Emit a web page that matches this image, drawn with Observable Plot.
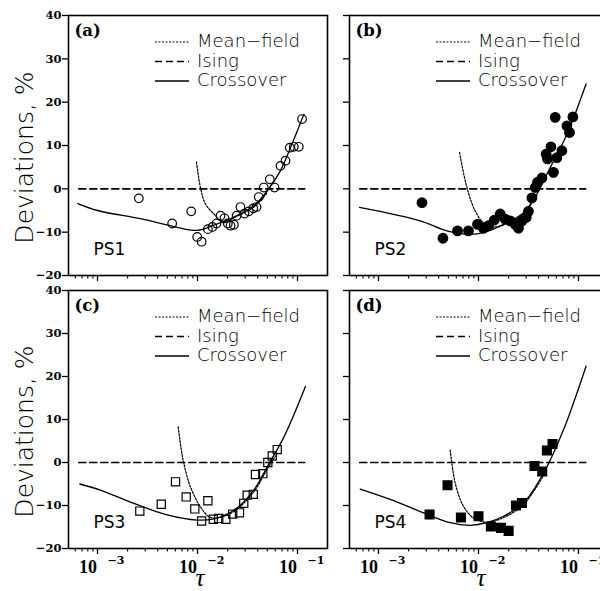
<!DOCTYPE html>
<html><head><meta charset="utf-8">
<script src="https://cdn.jsdelivr.net/npm/d3@7"></script>
<script src="https://cdn.jsdelivr.net/npm/@observablehq/plot@0.6"></script>
<style>
body{margin:0;background:#fff}
#chart{position:relative;width:600px;height:591px;overflow:hidden;background:#fff}
#chart svg{position:absolute}
</style></head><body><div id="chart"></div>
<script>
// ---- labels / ticks ----
const panelLetters = ["(a)","(b)","(c)","(d)"];
const sampleNames = ["PS1","PS2","PS3","PS4"];
const legendLabels = ["Mean\u2212field","Ising","Crossover"];
const yTitle = "Deviations, %";
const xTitle = "\u03c4";
const yTicks = [-20,-10,0,10,20,30,40];
const xMajorTicks = [1e-3,1e-2,1e-1];
const xTickExponents = ["\u22123","\u22122","\u22121"];

// ---- Ising reference line ----
const isingTau = [0.00065, 0.118];
const isingDev = [0, 0];

// ---- PS1 ----
const ps1Tau = [0.00259,0.00558,0.00865,0.00993,0.0110,0.0127,0.0141,0.0155,0.0170,0.0186,0.0201,0.0214,0.0231,0.0246,0.0269,0.0295,0.0326,0.0361,0.0389,0.0410,0.0460,0.0528,0.0589,0.0676,0.0759,0.0838,0.0918,0.103,0.111];
const ps1Dev = [-2.2,-8.0,-5.2,-11.1,-12.2,-9.3,-8.8,-8.0,-6.2,-6.8,-8.0,-8.5,-8.3,-6.2,-4.2,-5.7,-5.2,-4.5,-4.2,-1.9,0.3,2.2,0.3,5.3,6.5,9.5,9.7,9.7,16.1];
const crossATau = [0.000635,0.001,0.00269,0.00558,0.00993,0.0146,0.0231,0.0366,0.0498,0.0676,0.0851,0.116];
const crossADev = [-3.4,-5.0,-6.9,-8.6,-9.6,-8.4,-6.5,-3.9,-0.5,4.2,9.5,17.2];
const meanATau = [0.00977,0.0107,0.0120,0.0146,0.0170,0.0201,0.0231,0.0366,0.0498];
const meanADev = [6.2,0.3,-3.5,-5.8,-7.3,-7.4,-6.7,-4.2,-0.9];

// ---- PS2 ----
const ps2Tau = [0.00272,0.00441,0.00617,0.00794,0.00977,0.0112,0.0126,0.0144,0.0165,0.0185,0.0208,0.0233,0.0251,0.0272,0.0300,0.0316,0.0342,0.0369,0.0389,0.0431,0.0475,0.0490,0.0530,0.0562,0.0608,0.0682,0.0585,0.0766,0.0813,0.0879];
const ps2Dev = [-3.2,-11.4,-9.7,-9.7,-8.2,-9.1,-8.5,-7.2,-5.8,-7.0,-7.4,-8.2,-9.1,-7.4,-6.6,-5.2,-2.1,0.3,1.5,2.5,8.0,6.9,9.7,3.8,7.2,8.8,16.5,14.5,13.0,16.6];
const crossBTau = [0.000646,0.00261,0.00483,0.00826,0.0112,0.0178,0.0282,0.0384,0.0521,0.0766,0.119];
const crossBDev = [-4.3,-7.4,-9.7,-10.5,-10.1,-8.2,-5.5,-1.2,4.9,12.6,24.2];
const meanBTau = [0.00646,0.00766,0.00927,0.0112,0.0147,0.0200,0.0282,0.0384];
const meanBDev = [8.4,0.3,-5.1,-7.8,-8.8,-7.8,-5.7,-1.5];

// ---- PS3 ----
const ps3Tau = [0.00265,0.00434,0.00603,0.00771,0.00940,0.0110,0.0127,0.0144,0.0163,0.0192,0.0225,0.0263,0.0290,0.0314,0.0361,0.0380,0.0450,0.0505,0.0559,0.0627];
const ps3Dev = [-11.3,-9.7,-4.5,-8.0,-10.8,-13.6,-8.9,-13.2,-13.0,-13.2,-12.0,-11.7,-9.5,-7.6,-7.4,-2.8,-2.6,0.0,1.5,3.0];
const crossCTau = [0.000665,0.00107,0.00231,0.00498,0.00993,0.0146,0.0231,0.0366,0.0498,0.0730,0.120];
const crossCDev = [-5.0,-6.4,-9.5,-12.2,-13.4,-13.1,-11.1,-6.4,-1.0,5.9,17.7];
const meanCTau = [0.00641,0.00719,0.00851,0.0107,0.0130,0.0157,0.0231,0.0366,0.0498,0.0602];
const meanCDev = [8.3,0.5,-5.7,-10.3,-12.6,-12.9,-11.4,-6.8,-1.5,1.5];

// ---- PS4 ----
const ps4Tau = [0.00324,0.00490,0.00667,0.0100,0.0133,0.0168,0.0200,0.0237,0.0272,0.0363,0.0434,0.0483,0.0550];
const ps4Dev = [-12.1,-5.3,-12.8,-12.5,-14.9,-15.2,-15.9,-10.0,-9.4,-0.8,-2.1,2.8,4.3];
const crossDTau = [0.000656,0.00131,0.00282,0.00521,0.00826,0.0121,0.0178,0.0282,0.0447,0.0708,0.119];
const crossDDev = [-6.2,-8.6,-11.7,-14.0,-14.6,-14.0,-12.5,-9.4,-2.5,7.6,22.4];
const meanDTau = [0.00521,0.00585,0.00708,0.00891,0.0121,0.0178,0.0282,0.0447];
const meanDDev = [2.9,-4.8,-10.2,-12.9,-13.9,-12.8,-9.8,-3.0];

const zip = (t, d) => t.map((v, i) => ({tau: v, dev: d[i]}));
const xDomain = [Math.pow(10, -3.29), Math.pow(10, -0.70)];
const xMinorTicks = d3.scaleLog().domain(xDomain).ticks().filter(t => !xMajorTicks.some(m => Math.abs(m - t) / m < 1e-9));

const serifBold = {fontFamily: "'DejaVu Serif', serif", fontWeight: "bold"};
const sansFont = "'DejaVu Sans', sans-serif";

function panel(cfg) {
  const {idx, left, bottom, pTau, pDev, cTau, cDev, mTau, mDev, symbol, fill, r} = cfg;
  const plotW = 259, plotH = bottom ? 258 : 260;
  const mL = left ? 68 : 10, mR = 4, mT = bottom ? 10 : 15, mB = bottom ? 43 : 6;
  const marks = [
    Plot.line(zip(isingTau, isingDev), {x: "tau", y: "dev", stroke: "black", strokeWidth: 1.7, strokeDasharray: "7,4"}),
    Plot.line(zip(mTau, mDev), {x: "tau", y: "dev", stroke: "black", strokeWidth: 1.2, strokeDasharray: "2,1.5", curve: "catmull-rom"}),
    Plot.line(zip(cTau, cDev), {x: "tau", y: "dev", stroke: "black", strokeWidth: 1.3, curve: "catmull-rom"}),
    Plot.dot(zip(pTau, pDev), {x: "tau", y: "dev", symbol, r, fill, stroke: "black", strokeWidth: 1.2}),
    Plot.frame({stroke: "black", strokeWidth: 1.6}),
    Plot.axisY(yTicks, {tickSize: 6, tickPadding: 1, strokeWidth: 1.3, label: null,
      tickFormat: left ? (d => d < 0 ? "\u2212" + Math.abs(d) : String(d)) : () => "",
      fontSize: 11.5, fill: "black", ...serifBold}),
    Plot.axisX(xMajorTicks, {tickSize: 6, strokeWidth: 1.3, tickFormat: () => "", label: null}),
    Plot.axisX(xMinorTicks, {tickSize: 3.5, strokeWidth: 1.1, tickFormat: () => "", label: null}),
    Plot.text([panelLetters[idx]], {frameAnchor: "top-left", textAnchor: "start", lineAnchor: "bottom", dx: 6, dy: 20, fontSize: 16.5, fill: "black", ...serifBold}),
    Plot.text([sampleNames[idx]], {frameAnchor: "bottom-left", textAnchor: "start", lineAnchor: "bottom", dx: 25, dy: -21, fontSize: 17, fill: "black", fontFamily: sansFont, fontWeight: 400})
  ];
  if (left) {
    marks.push(Plot.text([yTitle], {frameAnchor: "left", rotate: -90, textAnchor: "middle", lineAnchor: "bottom", dx: -36, dy: 12, fontSize: 25, fill: "black", fontFamily: sansFont, fontWeight: 300}));
  }
  if (bottom) {
    marks.push(Plot.text(xMajorTicks, {x: d => d, text: () => "10", frameAnchor: "bottom", textAnchor: "end", lineAnchor: "bottom", dx: -0.5, dy: 24.5, fontSize: 18, fill: "black", fontFamily: "'Liberation Serif', serif", fontWeight: "bold"}));
    marks.push(Plot.text(xMajorTicks, {x: d => d, text: (d, i) => xTickExponents[i], frameAnchor: "bottom", textAnchor: "start", lineAnchor: "bottom", dx: 10, dy: 15.5, fontSize: 11, fill: "black", ...serifBold}));
    marks.push(Plot.text([xTitle], {frameAnchor: "bottom", textAnchor: "middle", lineAnchor: "bottom", dx: 2, dy: 37, fontSize: 25, fill: "black", fontFamily: "'Liberation Serif', serif", fontStyle: "italic"}));
  }
  const svg = Plot.plot({
    width: mL + plotW + mR,
    height: mT + plotH + mB,
    marginLeft: mL, marginRight: mR, marginTop: mT, marginBottom: mB,
    x: {type: "log", domain: xDomain},
    y: {domain: [-20, 40]},
    style: {background: "transparent", overflow: "visible", color: "black"},
    marks
  });
  // in-panel key
  const g = d3.select(svg).append("g").attr("transform", `translate(${mL},${mT})`);
  const rows = [{dash: "2,1.5", w: 1.1, y: 27}, {dash: "7,4", w: 1.6, y: 46.5}, {dash: null, w: 1.4, y: 66}];
  rows.forEach((row, i) => {
    g.append("line").attr("x1", 87).attr("x2", 121).attr("y1", row.y).attr("y2", row.y)
      .attr("stroke", "black").attr("stroke-width", row.w).attr("stroke-dasharray", row.dash);
    g.append("text").attr("x", 129).attr("y", row.y + 5).text(legendLabels[i])
      .attr("text-anchor", "start")
      .attr("font-family", sansFont).attr("font-weight", 300).attr("font-size", 18).attr("fill", "black");
  });
  svg.style.left = (left ? 0 : 339) + "px";
  svg.style.top = (bottom ? 280 : 0) + "px";
  document.getElementById("chart").appendChild(svg);
}

panel({idx: 0, left: true, bottom: false, pTau: ps1Tau, pDev: ps1Dev, cTau: crossATau, cDev: crossADev, mTau: meanATau, mDev: meanADev, symbol: "circle", fill: "none", r: 4.3});
panel({idx: 1, left: false, bottom: false, pTau: ps2Tau, pDev: ps2Dev, cTau: crossBTau, cDev: crossBDev, mTau: meanBTau, mDev: meanBDev, symbol: "circle", fill: "black", r: 4.8});
panel({idx: 2, left: true, bottom: true, pTau: ps3Tau, pDev: ps3Dev, cTau: crossCTau, cDev: crossCDev, mTau: meanCTau, mDev: meanCDev, symbol: "square", fill: "none", r: 4.6});
panel({idx: 3, left: false, bottom: true, pTau: ps4Tau, pDev: ps4Dev, cTau: crossDTau, cDev: crossDDev, mTau: meanDTau, mDev: meanDDev, symbol: "square", fill: "black", r: 5.0});
</script></body></html>
